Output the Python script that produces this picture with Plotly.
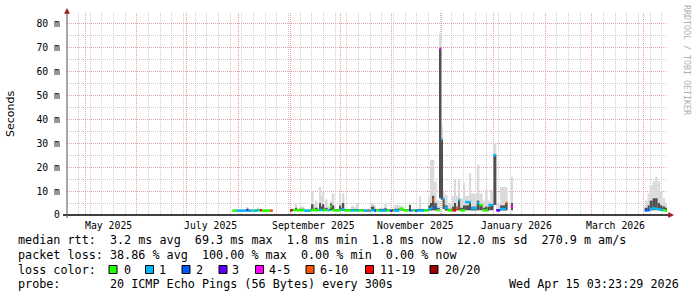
import plotly.graph_objects as go
import pandas as pd

# ---------------- data ----------------
sample_time = [
    # block 1 (Jul-Aug 2025)
    "2025-07-28 12:00", "2025-07-31 00:00", "2025-08-06 00:00", "2025-08-07 00:00",
    "2025-08-09 00:00", "2025-08-10 00:00", "2025-08-12 12:00", "2025-08-13 12:00",
    "2025-08-14 00:00", "2025-08-15 00:00", "2025-08-20 00:00", "2025-08-21 12:00",
    # block 2 (Sep 2025 - Jan 2026)
    "2025-09-01 00:00", "2025-09-01 18:00", "2025-09-02 12:00", "2025-09-04 00:00",
    "2025-09-05 00:00", "2025-09-06 12:00", "2025-09-09 12:00", "2025-09-13 00:00",
    "2025-09-14 00:00", "2025-09-15 00:00", "2025-09-16 12:00", "2025-09-17 12:00",
    "2025-09-18 12:00", "2025-09-19 12:00", "2025-09-20 12:00", "2025-09-21 12:00",
    "2025-09-22 12:00", "2025-09-23 12:00", "2025-09-25 00:00", "2025-09-26 00:00",
    "2025-09-27 12:00", "2025-09-30 12:00", "2025-10-01 12:00", "2025-10-02 12:00",
    "2025-10-03 12:00", "2025-10-07 12:00", "2025-10-09 12:00", "2025-10-10 12:00",
    "2025-10-12 00:00", "2025-10-15 00:00", "2025-10-17 12:00", "2025-10-18 12:00",
    "2025-10-19 12:00", "2025-10-21 12:00", "2025-10-22 12:00", "2025-10-24 12:00",
    "2025-10-27 12:00", "2025-10-29 00:00", "2025-10-31 00:00", "2025-11-01 12:00",
    "2025-11-02 12:00", "2025-11-05 12:00", "2025-11-08 00:00", "2025-11-11 12:00",
    "2025-11-12 12:00", "2025-11-13 12:00", "2025-11-15 00:00", "2025-11-16 00:00",
    "2025-11-17 12:00", "2025-11-18 12:00", "2025-11-20 12:00", "2025-11-23 00:00",
    "2025-11-24 12:00", "2025-11-25 12:00", "2025-11-26 12:00", "2025-11-28 00:00",
    "2025-11-29 18:00", "2025-11-30 18:00", "2025-12-01 12:00", "2025-12-02 18:00",
    "2025-12-04 12:00", "2025-12-07 12:00", "2025-12-08 12:00", "2025-12-09 12:00",
    "2025-12-11 00:00", "2025-12-12 00:00", "2025-12-13 18:00", "2025-12-15 00:00",
    "2025-12-17 12:00", "2025-12-18 12:00", "2025-12-22 00:00", "2025-12-23 12:00",
    "2025-12-25 12:00", "2025-12-27 00:00", "2025-12-28 12:00", "2025-12-29 00:00",
    "2025-12-30 00:00", "2026-01-01 00:00", "2026-01-02 18:00", "2026-01-05 00:00",
    "2026-01-08 12:00", "2026-01-09 12:00", "2026-01-11 12:00", "2026-01-12 18:00",
    # block 3 (Apr 2026)
    "2026-04-01 18:00", "2026-04-03 12:00", "2026-04-04 18:00", "2026-04-06 12:00",
    "2026-04-08 00:00", "2026-04-09 12:00", "2026-04-11 00:00", "2026-04-12 12:00",
    "2026-04-14 00:00", "2026-04-15 03:00",
]
median_ms = [
    1.8, 1.8, 2.0, 1.8, 1.9, 1.8, 2.0, 1.8, 2.0, 1.8, 1.8, None,
    1.9, 2.0, 2.0, 2.1, 2.0, 2.0, 1.8, 2.0,
    2.1, 2.0, 2.0, 2.0, 2.1, 2.1, 2.0, 2.0,
    2.0, 2.0, 3.5, 2.0, 1.9, 2.0, 2.3, 2.4,
    1.9, 1.9, 1.9, 1.9, 1.9, 1.8, 1.9, 1.8,
    2.0, 1.8, 1.9, 1.8, 1.8, 1.9, 1.8, 1.9,
    1.8, 2.6, 1.9, 2.0, 1.8, 1.9, 1.8, 1.8,
    1.9, 1.8, 1.9, 2.4, 3.0, 6.3, 3.0, 2.0,
    69.5, 31.5, 6.7, 3.0, 1.9, 1.9, 1.9, 2.8,
    6.3, 1.9, 1.9, 5.4, 5.4, 2.8, 5.0, 4.2,
    1.9, 1.9, 1.9, 4.2, 4.2, 25.0, 1.9, 2.5,
    5.0, None, 3.3, None,
    1.9, 2.0, 2.6, 2.8, 2.6, 2.4, 2.2, 2.0, 1.8, None,
]
loss_count = [
    0, 1, 3, 1, 0, 1, 0, 1, 12, 0, 7, None,
    20, 12, 0, 0, 0, 0, 1, 0,
    0, 0, 0, 0, 1, 1, 0, 0,
    0, 1, 0, 0, 0, 0, 1, 1,
    0, 1, 0, 1, 0, 1, 7, 1,
    1, 2, 0, 1, 1, 0, 3, 0,
    1, 0, 0, 3, 1, 0, 2, 1,
    1, 1, 0, 1, 1, 7, 2, 0,
    4, 1, 1, 1, 0, 12, 12, 7,
    1, 0, 0, 1, 1, 1, 1, 0,
    0, 0, 0, 1, 1, 1, 3, 1,
    7, None, 4, None,
    2, 2, 1, 1, 1, 1, 1, 0, 0, None,
]
smoke_low_ms = [
    1.8, 1.8, 1.8, 1.8, 1.8, 1.8, 1.8, 1.8, 1.8, 1.8, 1.8, None,
    1.9, 1.9, 1.9, 1.9, 1.9, 1.9, 1.8, 1.9,
    1.9, 1.9, 1.9, 1.9, 1.9, 1.9, 1.9, 1.9,
    1.9, 1.9, 1.9, 1.9, 1.9, 1.9, 1.9, 1.9,
    1.9, 1.9, 1.9, 1.9, 1.9, 1.8, 1.9, 1.8,
    1.9, 1.8, 1.9, 1.8, 1.8, 1.9, 1.8, 1.9,
    1.8, 1.9, 1.9, 1.9, 1.8, 1.9, 1.8, 1.8,
    1.9, 1.8, 1.9, 1.9, 1.9, 2.0, 1.9, 1.9,
    7.0, 6.5, 2.5, 1.9, 1.9, 1.9, 1.9, 1.9,
    2.0, 1.9, 1.9, 2.0, 2.0, 1.9, 2.0, 2.0,
    1.9, 1.9, 1.9, 2.0, 2.0, 4.2, 1.9, 1.9,
    2.0, None, 2.0, None,
    1.9, 1.9, 1.9, 2.0, 2.0, 2.0, 1.9, 1.9, 1.8, None,
]
smoke_mid_ms = [
    1.9, 1.9, 2.6, 1.9, 2.0, 1.9, 2.4, 1.9, 2.2, 1.9, 1.9, None,
    2.0, 2.2, 2.3, 3.0, 2.3, 2.6, 2.0, 2.3,
    4.5, 2.6, 3.0, 2.2, 5.0, 3.5, 4.5, 2.3,
    3.0, 2.5, 4.8, 4.0, 2.2, 4.0, 3.0, 5.0,
    2.2, 2.4, 2.4, 2.5, 2.1, 2.0, 2.0, 2.0,
    3.5, 2.5, 2.2, 2.2, 2.8, 2.1, 2.0, 2.1,
    2.6, 2.8, 2.1, 4.2, 2.0, 2.1, 2.0, 2.1,
    2.5, 2.1, 2.1, 4.0, 5.0, 8.0, 5.0, 3.0,
    69.5, 31.5, 6.7, 4.0, 2.6, 3.5, 5.0, 3.5,
    6.3, 3.0, 4.0, 4.0, 5.4, 3.5, 6.0, 4.5,
    3.0, 3.5, 2.5, 3.5, 4.5, 25.0, 2.5, 4.0,
    5.0, None, 5.0, None,
    3.0, 4.0, 6.0, 7.0, 7.0, 5.0, 4.0, 3.5, 3.0, None,
]
smoke_max_ms = [
    2.1, 2.1, 3.4, 2.2, 2.4, 2.2, 3.2, 2.1, 2.6, 2.2, 2.1, None,
    2.2, 2.5, 2.8, 4.6, 2.8, 3.5, 2.6, 2.8,
    10.0, 4.5, 6.0, 2.8, 11.7, 8.0, 9.7, 3.0,
    6.5, 3.5, 6.0, 9.0, 2.6, 9.3, 5.0, 9.0,
    2.6, 3.8, 3.2, 5.0, 2.4, 2.4, 2.4, 2.4,
    5.1, 4.0, 2.6, 3.0, 4.6, 2.4, 2.3, 2.5,
    4.2, 3.8, 2.5, 4.4, 2.4, 2.5, 2.4, 2.6,
    7.7, 2.6, 2.5, 7.5, 23.0, 23.0, 14.0, 6.0,
    76.0, 37.0, 9.6, 8.4, 5.0, 8.0, 14.6, 8.0,
    15.0, 7.0, 13.4, 8.0, 17.6, 9.0, 21.0, 9.0,
    6.0, 10.5, 6.0, 6.0, 10.5, 30.0, 5.0, 11.7,
    11.7, None, 16.0, None,
    6.0, 9.0, 12.5, 14.0, 16.0, 14.0, 10.0, 7.0, 5.0, None,
]
assert len({len(sample_time), len(median_ms), len(loss_count), len(smoke_low_ms),
            len(smoke_mid_ms), len(smoke_max_ms)}) == 1

loss_labels = ["0", "1", "2", "3", "4-5", "6-10", "11-19", "20/20"]
loss_upper = [0, 1, 2, 3, 5, 10, 19, 20]
loss_colors = ["#26ff00", "#00b8ff", "#0059ff", "#5e00ff",
               "#ff00ff", "#ff5500", "#ff0000", "#a00000"]

y_tick_values = [0, 10, 20, 30, 40, 50, 60, 70, 80]
y_tick_text = ["0", "10 m", "20 m", "30 m", "40 m", "50 m", "60 m", "70 m", "80 m"]

month_grid = ["2025-05-01", "2025-06-01", "2025-07-01", "2025-08-01", "2025-09-01",
              "2025-10-01", "2025-11-01", "2025-12-01", "2026-01-01", "2026-02-01",
              "2026-03-01", "2026-04-01"]
month_label_pos = ["2025-05-15", "2025-07-15", "2025-09-15",
                   "2025-11-15", "2026-01-15", "2026-03-15"]
month_labels = ["May 2025", "July 2025", "September 2025",
                "November 2025", "January 2026", "March 2026"]

x_start = "2025-04-20 03:23:29"
x_end = "2026-04-15 03:23:29"

line_rtt = "median rtt:  3.2 ms avg  69.3 ms max  1.8 ms min  1.8 ms now  12.0 ms sd  270.9 m am/s"
line_loss = "packet loss: 38.86 % avg  100.00 % max  0.00 % min  0.00 % now"
line_color = "loss color:"
line_probe = "probe:       20 ICMP Echo Pings (56 Bytes) every 300s"
line_date = "Wed Apr 15 03:23:29 2026"
credit = "RRDTOOL / TOBI OETIKER"
y_title = "Seconds"

# ---------------- layout constants ----------------
W, H = 697, 297
ML, MR, MT, MB = 67, 30, 13, 82
PW, PH = W - ML - MR, H - MT - MB
Y_TOP = 84.4
MONO = "DejaVu Sans Mono"
GRID_MAJOR = "#e8a0a0"
GRID_MINOR = "#cccccc"
DASH = "1px,1px"
ARROW = "#a01818"


def px(x):
    return (x - ML) / PW


def py(y):
    return (H - MB - y) / PH


def nb(s):
    return s.replace(" ", "\u00a0")


def loss_bin(n):
    for b, u in enumerate(loss_upper):
        if n <= u:
            return b
    return len(loss_upper) - 1


t = pd.to_datetime(sample_time)
valid = [i for i in range(len(t) - 1) if median_ms[i] is not None]

fig = go.Figure()

# smoke (light full range, dark core)
centers = [t[i] + (t[i + 1] - t[i]) / 2 for i in valid]
widths = [(t[i + 1] - t[i]).total_seconds() * 1000 for i in valid]
fig.add_trace(go.Bar(
    x=centers, width=widths,
    base=[smoke_low_ms[i] for i in valid],
    y=[smoke_max_ms[i] - smoke_low_ms[i] for i in valid],
    marker=dict(color="#dadada", line=dict(width=0)),
    hoverinfo="skip", showlegend=False))
fig.add_trace(go.Bar(
    x=centers, width=widths,
    base=[smoke_low_ms[i] for i in valid],
    y=[smoke_mid_ms[i] - smoke_low_ms[i] for i in valid],
    marker=dict(color="#505050", line=dict(width=0)),
    hoverinfo="skip", showlegend=False))

# median line coloured by loss
for b, col in enumerate(loss_colors):
    xs, ys = [], []
    for i in valid:
        if loss_bin(loss_count[i]) != b:
            continue
        xs += [t[i], t[i + 1], None]
        ys += [median_ms[i], median_ms[i], None]
    if xs:
        fig.add_trace(go.Scatter(x=xs, y=ys, mode="lines",
                                 line=dict(color=col, width=2.5),
                                 hoverinfo="skip", showlegend=False))

annotations = []
for d, lab in zip(month_label_pos, month_labels):
    annotations.append(dict(x=d, xref="x", y=py(225), yref="paper", text=nb(lab),
                            showarrow=False, xanchor="center", yanchor="middle",
                            font=dict(family=MONO, size=9.8, color="black")))
annotations.append(dict(x=px(10), y=0.5, xref="paper", yref="paper", text=y_title,
                        textangle=-90, showarrow=False, xanchor="center", yanchor="middle",
                        font=dict(family="DejaVu Sans", size=11, color="black")))
annotations.append(dict(x=px(687), y=py(60), xref="paper", yref="paper", text=nb(credit),
                        textangle=90, showarrow=False, xanchor="center", yanchor="middle",
                        font=dict(family=MONO, size=8.3, color="#b0b0b0")))
rows = [(line_rtt, 240.5), (line_loss, 255), (line_color, 269.5), (line_probe, 284)]
for txt, yc in rows:
    annotations.append(dict(x=px(16), y=py(yc), xref="paper", yref="paper", text=nb(txt),
                            showarrow=False, xanchor="left", yanchor="middle",
                            font=dict(family=MONO, size=11.75, color="black")))
annotations.append(dict(x=px(681), y=py(284), xref="paper", yref="paper", text=nb(line_date),
                        showarrow=False, xanchor="right", yanchor="middle",
                        font=dict(family=MONO, size=11.75, color="black")))

shapes = []
square_x = [109, 145.5, 182, 219, 255.5, 306, 365.5, 430]
label_x = [121.5, 157, 194, 230, 266.5, 318, 378, 443]
for sx, lx, col, lab in zip(square_x, label_x, loss_colors, loss_labels):
    shapes.append(dict(type="rect", xref="paper", yref="paper",
                       x0=px(sx), x1=px(sx + 8), y0=py(273.5), y1=py(265.5),
                       fillcolor=col, line=dict(color="black", width=1)))
    annotations.append(dict(x=px(lx), y=py(269.5), xref="paper", yref="paper", text=nb(lab),
                            showarrow=False, xanchor="left", yanchor="middle",
                            font=dict(family=MONO, size=11.75, color="black")))

shapes.append(dict(type="line", xref="paper", yref="paper", x0=px(63), x1=px(669),
                   y0=py(215), y1=py(215), line=dict(color="black", width=1.5)))
shapes.append(dict(type="line", xref="paper", yref="paper", x0=px(67), x1=px(67),
                   y0=py(218), y1=py(12), line=dict(color="#555555", width=1)))
shapes.append(dict(type="path", xref="paper", yref="paper",
                   path=f"M {px(668.5)},{py(212.5)} L {px(673.5)},{py(215)} L {px(668.5)},{py(217.5)} Z",
                   fillcolor=ARROW, line=dict(color=ARROW, width=0.5)))
shapes.append(dict(type="path", xref="paper", yref="paper",
                   path=f"M {px(64.5)},{py(13.5)} L {px(67)},{py(8.5)} L {px(69.5)},{py(13.5)} Z",
                   fillcolor=ARROW, line=dict(color=ARROW, width=0.5)))

fig.update_layout(
    width=W, height=H, autosize=False,
    margin=dict(l=ML, r=MR, t=MT, b=MB, pad=0),
    paper_bgcolor="white", plot_bgcolor="white",
    barmode="overlay", showlegend=False,
    font=dict(family=MONO, size=9.8, color="black"),
    xaxis=dict(type="date", range=[x_start, x_end], tickvals=month_grid,
               showticklabels=False, ticks="", showgrid=True,
               gridcolor=GRID_MAJOR, griddash=DASH, gridwidth=1,
               minor=dict(tick0="2025-04-20", dtick=7 * 86400000, showgrid=True,
                          gridcolor=GRID_MINOR, griddash=DASH, gridwidth=1, ticks=""),
               showline=False, zeroline=False, fixedrange=True),
    yaxis=dict(range=[0, Y_TOP], tickvals=y_tick_values, ticktext=y_tick_text,
               ticks="", ticklabelstandoff=6, showgrid=True,
               gridcolor=GRID_MAJOR, griddash=DASH, gridwidth=1,
               minor=dict(tick0=0, dtick=5, showgrid=True, gridcolor=GRID_MINOR,
                          griddash=DASH, gridwidth=1, ticks=""),
               tickfont=dict(family=MONO, size=9.8, color="black"),
               showline=False, zeroline=False, fixedrange=True),
    annotations=annotations, shapes=shapes,
)

fig.write_html("out.html")
